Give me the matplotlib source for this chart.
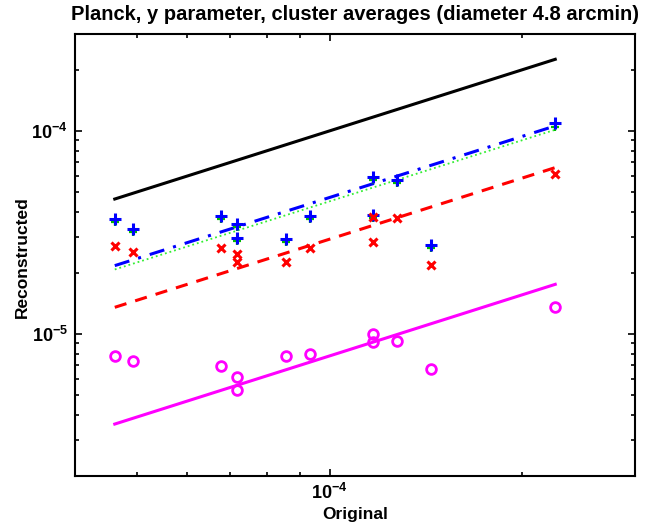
import numpy as np
import matplotlib
matplotlib.use("Agg")
import matplotlib.pyplot as plt
from matplotlib.ticker import FixedLocator, LogLocator, NullFormatter, FuncFormatter

plt.rcParams['font.family'] = ['Liberation Sans', 'DejaVu Sans']
plt.rcParams['mathtext.fontset'] = 'custom'
plt.rcParams['mathtext.rm'] = 'Liberation Sans:bold'
plt.rcParams['mathtext.bf'] = 'Liberation Sans:bold'
plt.rcParams['mathtext.default'] = 'bf'

# ---- data ----
original = [4.62e-5, 4.93e-5, 6.77e-5, 7.18e-5, 7.18e-5, 8.55e-5,
            9.33e-5, 1.171e-4, 1.171e-4, 1.274e-4, 1.440e-4, 2.252e-4]
recon_blue = [3.68e-5, 3.29e-5, 3.83e-5, 3.48e-5, 2.97e-5, 2.94e-5,
              3.83e-5, 5.91e-5, 3.86e-5, 5.73e-5, 2.75e-5, 1.09e-4]
recon_green = [3.56e-5, 3.18e-5, 3.70e-5, 3.37e-5, 2.87e-5, 2.84e-5,
               3.70e-5, 5.72e-5, 3.73e-5, 5.54e-5, 2.66e-5, 1.05e-4]
recon_red = [2.72e-5, 2.53e-5, 2.64e-5, 2.48e-5, 2.26e-5, 2.26e-5,
             2.65e-5, 3.76e-5, 2.83e-5, 3.71e-5, 2.19e-5, 6.12e-5]
recon_magenta = [7.82e-6, 7.33e-6, 6.98e-6, 6.12e-6, 5.32e-6, 7.82e-6,
                 7.97e-6, 1.00e-5, 9.16e-6, 9.20e-6, 6.72e-6, 1.363e-5]
# proportional fit factors (y = k * x)
fit_identity = 1.0
fit_blue = 0.47
fit_green = 0.45
fit_red = 0.293
fit_magenta = 0.078

xlim = (4e-5, 3e-4)
ylim = (2e-6, 3e-4)
xticks = [1e-4]
yticks = [1e-5, 1e-4]

fig = plt.figure(figsize=(6.58, 5.27), dpi=100)
ax = fig.add_axes([74.7/658, 1-476/527, (635-74.7)/658, (476-34)/527])

x = np.array(original)
xl = np.array([x.min(), x.max()])

ax.plot(xl, fit_identity*xl, '-', color='black', lw=2.2)
ax.plot(xl, fit_magenta*xl, '-', color='#ff00ff', lw=2.2)
ax.plot(xl, fit_red*xl, '--', color='red', lw=2.2, dashes=(4, 3))
ax.plot(xl, fit_green*xl, ':', color='#33ee33', lw=1.3)
ax.plot(xl, fit_blue*xl, '-.', color='blue', lw=2.2, dashes=(5, 3, 1, 3))

ax.plot(x, recon_green, '+', color='#00bb00', ms=6, mew=1.6, ls='none')
ax.plot(x, recon_blue, '+', color='blue', ms=8, mew=2.2, ls='none')
ax.plot(x, recon_red, 'x', color='red', ms=5.5, mew=2.2, ls='none')
ax.plot(x, recon_magenta, 'o', color='#ff00ff', ms=7, mew=2, mfc='none', ls='none')

ax.set_xscale('log')
ax.set_yscale('log')
ax.set_xlim(*xlim)
ax.set_ylim(*ylim)
ax.xaxis.set_major_locator(FixedLocator(xticks))
ax.yaxis.set_major_locator(FixedLocator(yticks))
ax.xaxis.set_minor_locator(LogLocator(base=10, subs=np.arange(2, 10)))
ax.yaxis.set_minor_locator(LogLocator(base=10, subs=np.arange(2, 10)))
ax.xaxis.set_minor_formatter(NullFormatter())
ax.yaxis.set_minor_formatter(NullFormatter())
fmt = FuncFormatter(lambda v, p: r'$\mathbf{10^{%d}}$' % int(round(np.log10(v))))
ax.xaxis.set_major_formatter(fmt)
ax.yaxis.set_major_formatter(fmt)
ax.tick_params(which='both', direction='in', top=True, right=True, width=1.2)
ax.tick_params(which='major', length=5, labelsize=13, pad=5)
ax.tick_params(which='minor', length=3)
for s in ax.spines.values():
    s.set_linewidth(1.5)

ax.set_title('Planck, y parameter, cluster averages (diameter 4.8 arcmin)',
             fontsize=14.5, fontweight='bold', y=(476-15)/442, va='center', pad=0)
ax.set_xlabel('Original', fontsize=12.5, fontweight='bold')
ax.set_ylabel('Reconstructed', fontsize=12.5, fontweight='bold')
ax.xaxis.set_label_coords(0.5, (476-515)/442)
ax.yaxis.set_label_coords((22-74.7)/560.3, 0.496)
ax.xaxis.label.set_va('center')
ax.yaxis.label.set_va('center')

fig.savefig('out.png', dpi=100)
